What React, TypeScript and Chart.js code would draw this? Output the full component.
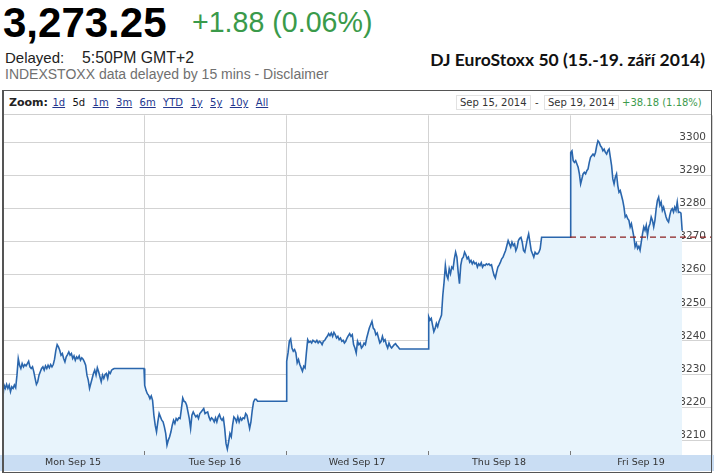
import React, { useEffect, useRef } from 'react';
import { Chart, registerables } from 'chart.js';

Chart.register(...registerables);

// ---------- data ----------
const DAY_LABELS = ['Mon Sep 15', 'Tue Sep 16', 'Wed Sep 17', 'Thu Sep 18', 'Fri Sep 19'];

const MON = [
  3222.2, 3226.7, 3225.7, 3226.9, 3225.7, 3226.7, 3224.7, 3226.2, 3225.7, 3226.7,
  3225.9, 3229.7, 3234.7, 3232.7, 3231.7, 3233.2, 3232.2, 3232.9, 3232.5, 3233.2,
  3233.9, 3232.2, 3231.7, 3232.2, 3230.7, 3228.7, 3226.9, 3227.7, 3229.7, 3230.7,
  3231.7, 3232.2, 3231.2, 3232.5, 3231.7, 3232.7, 3231.9, 3232.9, 3232.2, 3232.9,
  3234.5, 3237.2, 3238.9, 3238.2, 3237.2, 3235.7, 3236.2, 3234.7, 3233.7, 3235.2,
  3235.9, 3236.7, 3235.7, 3236.2, 3234.7, 3235.5, 3234.2, 3235.2, 3234.7, 3235.5,
  3234.2, 3234.9, 3234.5, 3233.7, 3232.7, 3229.7, 3228.2, 3225.7, 3227.2, 3228.7,
  3230.2, 3231.2, 3229.7, 3231.9, 3230.7, 3229.2, 3227.7, 3229.7, 3228.7, 3229.9,
  3230.2, 3228.7, 3230.7, 3230.2, 3231.2, 3231.5, 3231.7,
];

const TUE = [
  3226.6, 3225.1, 3224.1, 3223.6, 3222.6, 3223.4, 3222.1, 3217.6, 3214.6, 3212.6,
  3215.6, 3218.1, 3217.1, 3216.1, 3215.6, 3214.1, 3212.1, 3208.6, 3210.1, 3211.1,
  3212.6, 3214.6, 3216.1, 3215.1, 3216.6, 3216.1, 3216.8, 3216.6, 3219.6, 3222.8,
  3221.8, 3221.6, 3220.6, 3218.6, 3216.6, 3213.6, 3217.6, 3218.6, 3217.8, 3217.1,
  3217.6, 3216.6, 3218.1, 3218.6, 3219.1, 3219.6, 3218.1, 3218.4, 3218.6, 3217.1,
  3216.1, 3216.8, 3216.4, 3215.6, 3216.8, 3215.6, 3217.1, 3217.8, 3216.6, 3216.1,
  3216.8, 3213.6, 3209.1, 3207.4, 3209.6, 3212.1, 3211.1, 3214.6, 3217.1, 3216.6,
  3215.6, 3217.1, 3215.6, 3216.8, 3216.1, 3216.8, 3216.6, 3218.1, 3217.6, 3215.6,
  3213.6, 3215.6, 3219.1, 3221.6, 3222.4, 3222.4,
];

const WED = [
  3233.9, 3236.4, 3239.9, 3240.6, 3237.9, 3236.9, 3237.4, 3236.4, 3233.4, 3234.4,
  3232.9, 3231.9, 3230.9, 3232.4, 3231.9, 3236.4, 3240.4, 3239.6, 3239.9, 3239.4,
  3240.2, 3239.9, 3239.6, 3240.2, 3239.4, 3239.9, 3239.6, 3238.9, 3239.9, 3240.2,
  3240.9, 3241.4, 3242.2, 3241.6, 3242.4, 3241.4, 3242.6, 3241.9, 3240.9, 3241.4,
  3240.4, 3240.9, 3239.9, 3240.2, 3239.4, 3239.9, 3240.9, 3241.6, 3242.2, 3241.4,
  3241.9, 3238.9, 3237.9, 3236.4, 3239.9, 3238.9, 3239.4, 3237.9, 3238.4, 3239.4,
  3238.9, 3240.9, 3242.4, 3243.9, 3244.9, 3245.9, 3243.9, 3243.4, 3241.9, 3242.4,
  3240.9, 3239.4, 3239.9, 3241.4, 3239.9, 3240.4, 3238.9, 3237.9, 3239.4, 3238.4,
  3237.9, 3238.4, 3238.9, 3239.2, 3238.6, 3238.2,
];

const THU = [
  3247.3, 3246.3, 3246.8, 3244.8, 3242.8, 3243.8, 3245.3, 3244.3, 3245.8, 3246.8,
  3247.8, 3253.8, 3257.8, 3262.8, 3259.8, 3258.8, 3261.8, 3260.3, 3262.3, 3261.8,
  3264.8, 3266.8, 3265.3, 3260.8, 3257.3, 3262.8, 3264.8, 3265.3, 3266.8, 3266.0,
  3264.8, 3265.3, 3263.8, 3264.3, 3263.3, 3264.0, 3263.3, 3263.6, 3262.3, 3263.3,
  3262.8, 3263.6, 3262.3, 3263.0, 3262.8, 3263.3, 3263.0, 3263.3, 3262.8, 3263.0,
  3261.3, 3259.8, 3259.0, 3260.8, 3262.3, 3263.0, 3263.8, 3264.8, 3265.3, 3266.3,
  3267.3, 3268.8, 3270.3, 3269.3, 3268.3, 3269.8, 3268.8, 3269.3, 3267.3, 3268.3,
  3270.3, 3271.0, 3271.3, 3269.8, 3267.3, 3266.8, 3268.8, 3270.8, 3272.3, 3269.8,
  3267.3, 3266.3, 3265.3, 3266.8, 3266.3, 3266.3, 3266.8, 3267.8,
];

const FRI = [
  3296.9, 3297.4, 3294.4, 3293.9, 3294.4, 3293.4, 3292.4, 3290.4, 3287.4, 3288.9,
  3290.4, 3290.9, 3290.4, 3291.4, 3291.9, 3293.9, 3295.4, 3295.9, 3296.4, 3295.9,
  3296.9, 3298.9, 3300.4, 3299.9, 3298.9, 3298.4, 3297.4, 3297.9, 3296.9, 3296.4,
  3297.4, 3297.9, 3295.4, 3292.9, 3288.9, 3287.4, 3289.4, 3290.4, 3286.9, 3284.9,
  3285.4, 3283.9, 3282.4, 3280.4, 3277.4, 3277.9, 3276.9, 3276.4, 3274.4, 3275.4,
  3273.4, 3271.4, 3268.4, 3269.4, 3267.9, 3268.6, 3267.4, 3269.9, 3272.4, 3274.4,
  3273.4, 3274.9, 3271.9, 3274.4, 3275.4, 3277.4, 3276.4, 3274.4, 3276.4, 3279.9,
  3282.4, 3283.4, 3280.9, 3281.9, 3279.4, 3280.4, 3278.9, 3277.4, 3276.4, 3275.9,
  3277.9, 3279.4, 3279.9, 3278.9, 3280.4, 3279.4, 3281.9, 3278.8, 3278.9, 3278.6,
  3273.25,
];

const DAY_SERIES = [MON, TUE, WED, THU, FRI];
const DAY_CLOSES = [3231.7, 3221.8, 3237.6, 3271.3];
const PREV_CLOSE = 3271.37;
const Y_TICKS = [3210, 3220, 3230, 3240, 3250, 3260, 3270, 3280, 3290, 3300];
const Y_MIN = 3205.6;
const Y_MAX = 3308.1;
// session timing inside each day slot (fraction of the slot)
const SESSION_OPEN = 0.005;
const SESSION_LAST = 0.79;
const CLOSE_AUCTION = 0.8;

const ZOOM_LINKS = ['1d', '5d', '1m', '3m', '6m', 'YTD', '1y', '5y', '10y', 'All'];
const ACTIVE_ZOOM = '5d';

function buildPoints() {
  const pts: { x: number; y: number }[] = [];
  DAY_SERIES.forEach((vals, d) => {
    const n = vals.length;
    vals.forEach((v, i) => {
      pts.push({ x: d + SESSION_OPEN + ((SESSION_LAST - SESSION_OPEN) * i) / (n - 1), y: v });
    });
    if (d < DAY_CLOSES.length) {
      pts.push({ x: d + CLOSE_AUCTION, y: DAY_CLOSES[d] });
      pts.push({ x: d + 1, y: DAY_CLOSES[d] });
    }
  });
  return pts;
}

export default function App() {
  const ref = useRef<HTMLCanvasElement>(null);

  useEffect(() => {
    const canvas = ref.current!;
    const decor = {
      id: 'decor',
      beforeDraw(chart: any) {
        const { ctx, scales } = chart;
        const xs = scales.x;
        ctx.save();
        ctx.fillStyle = '#c9ddf3';
        ctx.fillRect(0, xs.top, chart.width, 16);
        ctx.restore();
      },
      afterDatasetsDraw(chart: any) {
        const { ctx, chartArea, scales } = chart;
        ctx.save();
        ctx.strokeStyle = '#7a7a7a';
        ctx.lineWidth = 1;
        for (let d = 1; d < DAY_LABELS.length; d++) {
          const px = Math.round(scales.x.getPixelForValue(d)) + 0.5;
          ctx.beginPath();
          ctx.moveTo(px, chartArea.bottom - 4);
          ctx.lineTo(px, chartArea.bottom);
          ctx.stroke();
        }
        ctx.restore();
      },
    };

    const chart = new Chart(canvas, {
      type: 'line',
      data: {
        datasets: [
          {
            label: 'prev close',
            data: [
              { x: DAY_SERIES.length - 1, y: PREV_CLOSE },
              { x: DAY_SERIES.length, y: PREV_CLOSE },
            ],
            borderColor: '#8a1f1f',
            borderWidth: 1.2,
            borderDash: [6, 4],
            pointRadius: 0,
            fill: false,
            order: 1,
          },
          {
            label: 'DJ EuroStoxx 50',
            data: buildPoints(),
            borderColor: '#2a66ad',
            borderWidth: 1.6,
            pointRadius: 0,
            fill: 'start',
            backgroundColor: '#e8f4fc',
            tension: 0,
            order: 2,
          },
        ],
      },
      options: {
        responsive: false,
        maintainAspectRatio: false,
        animation: false,
        layout: { padding: { left: 2, right: 1, top: 0, bottom: 0 } },
        plugins: { legend: { display: false }, tooltip: { enabled: false } },
        scales: {
          x: {
            type: 'linear',
            min: 0,
            max: DAY_LABELS.length,
            border: { display: false },
            grid: {
              drawTicks: false,
              color: (c: any) =>
                c.tick && Number.isInteger(c.tick.value) ? '#d3d3d3' : 'rgba(0,0,0,0)',
            },
            afterBuildTicks: (s: any) => {
              const t: { value: number }[] = [];
              for (let d = 0; d <= DAY_LABELS.length; d++) {
                t.push({ value: d });
                if (d < DAY_LABELS.length) t.push({ value: d + 0.5 });
              }
              s.ticks = t;
            },
            afterFit: (s: any) => {
              s.height = 18;
            },
            ticks: {
              autoSkip: false,
              maxRotation: 0,
              minRotation: 0,
              padding: 2,
              color: '#333',
              font: { family: 'DejaVu Sans', size: 9.5 },
              callback: (v: any) => {
                const n = Number(v);
                return Number.isInteger(n) ? '' : DAY_LABELS[Math.floor(n)];
              },
            },
          },
          y: {
            type: 'linear',
            position: 'right',
            min: Y_MIN,
            max: Y_MAX,
            border: { display: false },
            grid: { drawTicks: false, color: '#d3d3d3' },
            afterBuildTicks: (s: any) => {
              s.ticks = Y_TICKS.map((v) => ({ value: v }));
            },
            afterFit: (s: any) => {
              s.width = 0;
            },
            ticks: {
              mirror: true,
              crossAlign: 'near',
              padding: -6,
              labelOffset: -5,
              color: '#444',
              font: { family: 'DejaVu Sans', size: 10.5 },
              callback: (v: any) => String(v),
            },
          },
        },
      },
      plugins: [decor],
    } as any);
    return () => chart.destroy();
  }, []);

  const abs = (s: React.CSSProperties): React.CSSProperties => ({ position: 'absolute', whiteSpace: 'nowrap', ...s });

  return (
    <div style={{ position: 'absolute', left: 0, top: 0, width: 714, height: 474, background: '#fff', overflow: 'hidden' }}>
      <div style={abs({ left: 3, top: 1.5, fontFamily: '"Liberation Sans", Arial, sans-serif', fontWeight: 'bold', fontSize: 42, lineHeight: '42px', color: '#000' })}>
        3,273.25
      </div>
      <div style={abs({ left: 192, top: 8, fontFamily: '"Liberation Sans", Arial, sans-serif', fontSize: 28.6, lineHeight: '28px', color: '#3a9a4a' })}>
        +1.88 (0.06%)
      </div>
      <div style={abs({ left: 5, top: 50.3, fontFamily: '"Liberation Sans", Arial, sans-serif', fontSize: 15, lineHeight: '15px', color: '#222' })}>
        Delayed:
      </div>
      <div style={abs({ left: 82, top: 50, fontFamily: '"Liberation Sans", Arial, sans-serif', fontSize: 15.8, lineHeight: '15px', color: '#222' })}>
        5:50PM GMT+2
      </div>
      <div style={abs({ left: 5, top: 66.5, fontFamily: '"Liberation Sans", Arial, sans-serif', fontSize: 14, lineHeight: '14px', color: '#707070' })}>
        INDEXSTOXX data delayed by 15 mins - Disclaimer
      </div>
      <div style={abs({ right: 9, top: 52.3, fontFamily: 'Lato, "Noto Sans", sans-serif', fontWeight: 'bold', fontSize: 17.5, lineHeight: '16px', color: '#111' })}>
        DJ EuroStoxx 50 (15.-19. září 2014)
      </div>

      {/* toolbar */}
      <div style={abs({ left: 3, top: 91, width: 708, height: 23, borderBottom: '1px solid #cfcfcf', fontFamily: '"DejaVu Sans", Verdana, sans-serif', fontSize: 10, lineHeight: '23px', color: '#222' })}>
        <span style={{ position: 'absolute', left: 6, top: 0, fontWeight: 'bold', fontSize: 11 }}>Zoom:</span>
        <span style={{ position: 'absolute', left: 42, top: 0 }}>
          {ZOOM_LINKS.map((z) => (
            <span
              key={z}
              style={{
                marginLeft: 7.4,
                color: z === ACTIVE_ZOOM ? '#111' : '#23368e',
                textDecoration: z === ACTIVE_ZOOM ? 'none' : 'underline',
              }}
            >
              {z}
            </span>
          ))}
        </span>
        <span style={{ position: 'absolute', left: 453, top: 4, height: 13, lineHeight: '13px', padding: '0 3px', border: '1px solid #e2e2e2', fontSize: 10, color: '#333' }}>Sep 15, 2014</span>
        <span style={{ position: 'absolute', left: 532, top: 0, fontSize: 10, color: '#333' }}>-</span>
        <span style={{ position: 'absolute', left: 541, top: 4, height: 13, lineHeight: '13px', padding: '0 3px', border: '1px solid #e2e2e2', fontSize: 10, color: '#333' }}>Sep 19, 2014</span>
        <span style={{ position: 'absolute', left: 619, top: 0, fontSize: 10, color: '#3c9a4c' }}>+38.18 (1.18%)</span>
      </div>

      <canvas ref={ref} width={714} height={358} style={{ position: 'absolute', left: 0, top: 115, width: 714, height: 358, display: 'block' }} />

      <div style={{ position: 'absolute', left: 2, top: 90, width: 710, height: 383, boxSizing: 'border-box', border: '1px solid #555', borderLeftWidth: 2, pointerEvents: 'none' }} />
    </div>
  );
}
